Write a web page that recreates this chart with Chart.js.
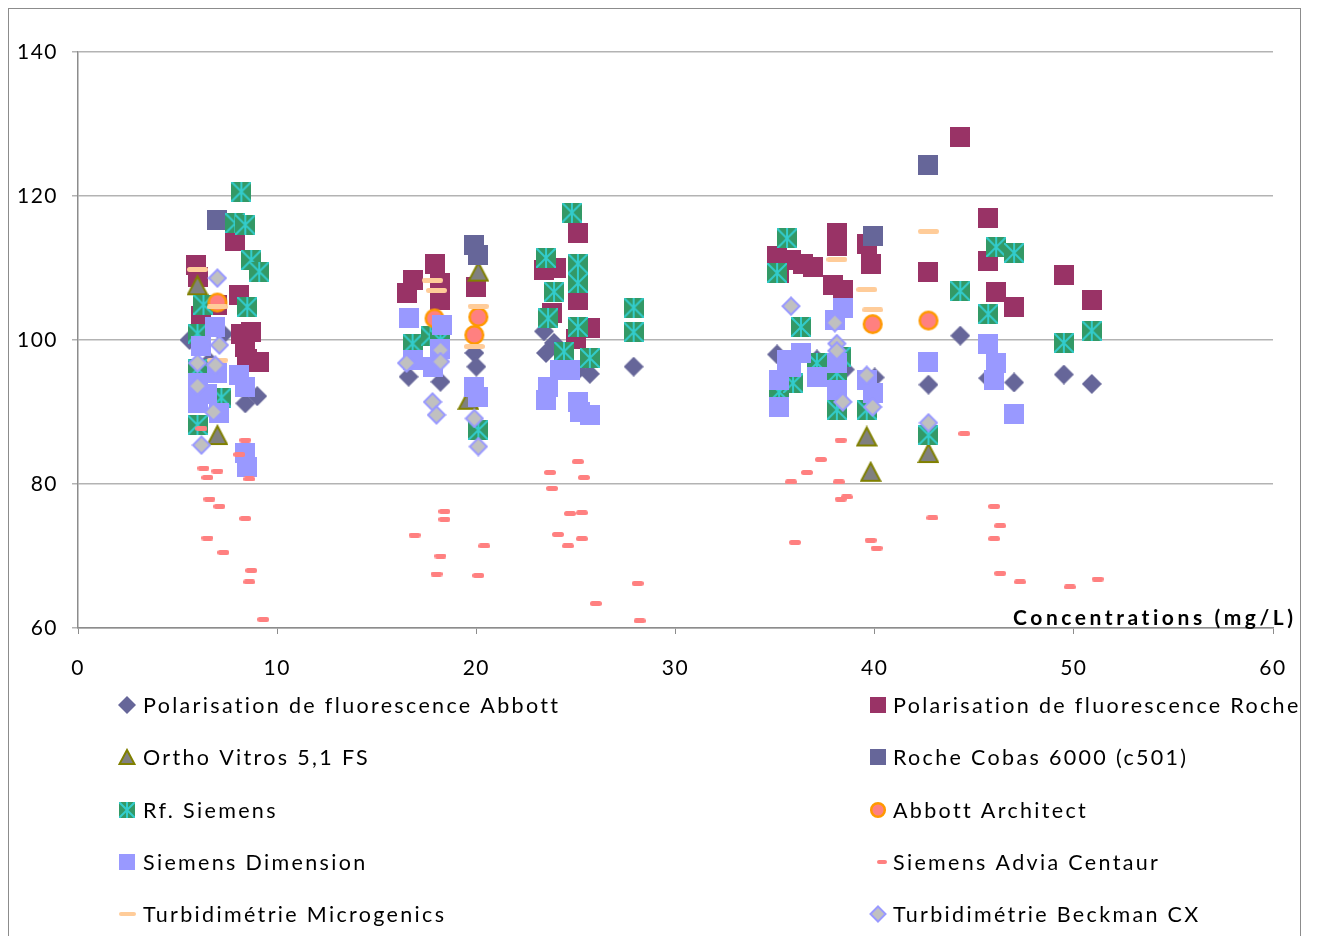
<!DOCTYPE html>
<html><head><meta charset="utf-8">
<script src="https://cdn.jsdelivr.net/npm/chart.js@4/dist/chart.umd.min.js"></script>
<style>html,body{margin:0;padding:0;background:#fff;}canvas{display:block}</style>
</head><body>
<canvas id="c" width="1322" height="936"></canvas>
<script>
// ---- data (x: concentration mg/L, y: value) ----
const xTicks = [0, 10, 20, 30, 40, 50, 60];
const yTicks = [60, 80, 100, 120, 140];
const xTitle = 'Concentrations (mg/L)';

const fpAbbott = [[5.6,100.0],[7.3,100.8],[6.6,97.0],[8.4,91.2],[9.0,92.2],
  [16.6,94.9],[18.2,94.2],[19.9,98.2],[20.0,96.3],
  [23.4,101.2],[23.9,99.6],[23.5,98.2],[25.1,95.8],[25.7,95.3],[27.9,96.3],
  [35.1,98.0],[37.1,97.3],[38.5,95.9],[40.0,94.8],
  [42.7,93.8],[44.3,100.6],[45.7,94.7],[47.0,94.1],[49.5,95.2],[50.9,93.9]];
const fpRoche = [[5.9,110.4],[6.0,108.8],[7.9,113.7],[8.1,106.3],[6.2,103.3],[7.0,104.9],[8.2,100.9],[8.7,101.1],[8.5,97.4],[9.1,97.0],[8.4,99.0],
  [16.5,106.5],[16.8,108.3],[17.9,110.6],[18.2,107.9],[18.2,105.6],[20.0,107.4],
  [23.4,109.7],[24.0,110.0],[25.1,114.8],[25.1,105.6],[23.8,103.7],[25.7,101.6],[25.0,100.2],[27.9,104.4],
  [35.1,111.6],[35.8,111.1],[36.4,110.6],[36.9,110.2],[35.2,109.3],[37.9,107.6],[38.4,106.9],[38.1,114.8],[38.1,113.0],[39.6,113.4],[39.8,110.6],
  [44.3,128.2],[42.7,109.5],[45.7,117.0],[45.7,111.0],[46.1,106.6],[47.0,104.6],[49.5,109.0],[50.9,105.6]];
const orthoVitros = [[6.0,107.6],[7.0,86.8],[20.1,109.5],[19.6,91.7],[39.6,86.6],[39.8,81.7],[42.7,84.3]];
const rocheCobas = [[7.0,116.7],[19.9,113.2],[20.1,111.8],[39.9,114.4],[42.7,124.3]];
const rfSiemens = [[8.2,120.6],[7.9,116.2],[8.4,116.0],[8.7,111.1],[9.1,109.5],[6.3,104.9],[8.5,104.6],[6.0,100.9],[6.0,96.0],[7.2,92.0],[6.0,88.2],
  [16.8,99.5],[17.7,100.5],[18.2,100.0],[20.1,87.5],
  [24.8,117.7],[23.5,111.4],[25.1,110.6],[25.1,107.9],[23.9,106.7],[23.6,103.0],[25.1,101.8],[24.4,98.4],[25.7,97.5],[27.9,104.5],[27.9,101.1],
  [35.6,114.1],[35.1,109.3],[36.3,101.8],[38.1,90.3],[39.6,90.3],[35.2,92.8],[35.9,94.0],[37.1,96.8],[38.1,95.4],[38.3,97.7],
  [44.3,106.8],[46.1,112.9],[47.0,112.1],[45.7,103.6],[49.5,99.6],[50.9,101.3],[42.7,86.8]];
const abbottArchitect = [[7.0,105.2],[17.9,103.0],[20.1,103.2],[19.9,100.7],[39.9,102.2],[42.7,102.7]];
const siemensDimension = [[6.9,101.8],[6.2,99.1],[7.0,95.4],[8.1,95.1],[8.4,93.5],[6.0,94.0],[6.0,91.2],[7.1,89.8],[6.5,92.5],[8.4,84.3],[8.5,82.4],
  [16.6,103.0],[18.3,102.1],[18.2,98.8],[16.8,97.2],[17.8,96.3],[19.9,93.5],[20.1,92.1],
  [24.2,95.8],[24.7,95.8],[23.6,93.5],[23.5,91.7],[25.1,91.4],[25.2,90.0],[25.7,89.6],
  [38.4,104.4],[38.0,102.8],[36.3,98.2],[35.6,97.2],[35.2,94.4],[37.1,94.9],[38.1,96.8],[38.1,93.1],[39.6,94.4],[39.9,92.6],[35.2,90.7],[35.8,96.3],
  [42.7,97.0],[45.7,99.5],[46.1,96.8],[46.0,94.4],[47.0,89.7]];
const adviaCentaur = [[6.2,87.7],[8.4,86.1],[8.1,84.1],[6.3,82.2],[7.0,81.8],[6.5,80.9],[8.6,80.7],[6.6,77.9],[7.1,76.9],[8.4,75.2],[6.5,72.5],[7.3,70.5],[8.7,68.0],[8.6,66.4],[9.3,61.2],
  [18.4,76.2],[18.4,75.1],[16.9,72.9],[20.4,71.4],[18.2,70.0],[18.0,67.5],[20.1,67.3],
  [25.1,83.1],[23.7,81.6],[25.4,80.9],[23.8,79.4],[24.7,75.9],[25.3,76.0],[24.1,73.0],[25.3,72.4],[24.6,71.4],[28.1,66.2],[26.0,63.4],[28.2,61.0],
  [38.3,86.1],[37.3,83.4],[36.6,81.6],[35.8,80.3],[38.2,80.3],[38.6,78.2],[38.3,77.9],[36.0,71.9],[39.8,72.2],[40.1,71.1],
  [44.5,87.0],[42.9,75.3],[46.0,76.9],[46.3,74.2],[46.0,72.4],[46.3,67.6],[47.3,66.4],[49.8,65.7],[51.2,66.8]];
const turbMicrogenics = [[6.0,109.8],[7.0,104.6],[7.0,97.2],[17.8,108.3],[18.0,106.9],[20.1,104.7],[19.9,99.1],[38.1,111.2],[39.6,107.0],[39.9,104.2],[42.7,115.1]];
const turbBeckman = [[7.0,108.6],[7.1,99.3],[6.0,96.8],[6.9,96.5],[6.0,93.6],[6.8,90.0],[6.2,85.4],
  [16.5,96.8],[18.2,98.6],[18.2,97.0],[17.8,91.4],[18.0,89.6],[19.9,89.1],[20.1,85.2],
  [35.8,104.7],[38.0,102.4],[38.1,99.5],[38.1,98.5],[39.6,95.1],[38.4,91.4],[39.9,90.7],[42.7,88.5]];

const seriesNames = ['Polarisation de fluorescence Abbott','Polarisation de fluorescence Roche','Ortho Vitros 5,1 FS','Roche Cobas 6000 (c501)','Rf. Siemens','Abbott Architect','Siemens Dimension','Siemens Advia Centaur','Turbidimétrie Microgenics','Turbidimétrie Beckman CX'];
const seriesData = [fpAbbott, fpRoche, orthoVitros, rocheCobas, rfSiemens, abbottArchitect, siemensDimension, adviaCentaur, turbMicrogenics, turbBeckman];

// ---- marker styles ----
const markerDefs = [
  {t:'diamond', fill:'#666699'},
  {t:'square', fill:'#993366'},
  {t:'triangle', fill:'#808080', stroke:'#808000'},
  {t:'square', fill:'#666699'},
  {t:'rf', fill:'#339966', stroke:'#33cccc'},
  {t:'circle', fill:'#ff8080', stroke:'#ff9900'},
  {t:'square', fill:'#9999ff'},
  {t:'dashS', fill:'#ff8080'},
  {t:'dashL', fill:'#ffcc99'},
  {t:'diamondB', fill:'#c0c0c0', stroke:'#9999ff'}
];

function makeMarker(def, s) {
  const c = document.createElement('canvas');
  let w = s, h = s;
  if (def.t === 'dashS') { w = Math.round(s*0.62); h = Math.round(s*0.27); }
  if (def.t === 'dashL') { w = Math.round(s*1.05); h = Math.round(s*0.25); }
  if (def.t === 'triangle' || def.t === 'circle') { w = s + 2; h = s + 2; }
  c.width = w; c.height = h;
  const g = c.getContext('2d');
  g.fillStyle = def.fill;
  switch (def.t) {
    case 'diamond':
      g.beginPath(); g.moveTo(w/2,0); g.lineTo(w,h/2); g.lineTo(w/2,h); g.lineTo(0,h/2); g.closePath(); g.fill(); break;
    case 'diamondB': {
      const r = w/2 - 1.5;
      g.beginPath(); g.moveTo(w/2,w/2-r); g.lineTo(w/2+r,h/2); g.lineTo(w/2,h/2+r); g.lineTo(w/2-r,h/2); g.closePath();
      g.fill(); g.strokeStyle = def.stroke; g.lineWidth = 2; g.stroke(); break; }
    case 'square':
      g.fillRect(0,0,w,h); break;
    case 'triangle':
      g.beginPath(); g.moveTo(w/2,2); g.lineTo(w-1.5,h-2); g.lineTo(1.5,h-2); g.closePath();
      g.fill(); g.strokeStyle = def.stroke; g.lineWidth = 2; g.lineJoin='miter'; g.stroke(); break;
    case 'rf':
      g.fillRect(0,0,w,h); g.strokeStyle = def.stroke; g.lineWidth = 2;
      g.beginPath(); g.moveTo(0,0); g.lineTo(w,h); g.moveTo(w,0); g.lineTo(0,h); g.moveTo(w/2,0); g.lineTo(w/2,h); g.stroke(); break;
    case 'circle':
      g.beginPath(); g.arc(w/2,h/2,s/2-1.2,0,Math.PI*2); g.fill(); g.strokeStyle = def.stroke; g.lineWidth = 2.5; g.stroke(); break;
    case 'dashS': case 'dashL': {
      const r = h/2; g.beginPath();
      g.moveTo(r,0); g.lineTo(w-r,0); g.arc(w-r,r,r,-Math.PI/2,Math.PI/2); g.lineTo(r,h); g.arc(r,r,r,Math.PI/2,Math.PI*1.5); g.closePath(); g.fill(); break; }
  }
  return c;
}

const plotMarkers = markerDefs.map(d => makeMarker(d, 20));
const legendMarkers = markerDefs.map(d => makeMarker(d, d.t==='diamond'||d.t==='diamondB' ? 18 : 16));

const datasets = seriesData.map((arr, i) => ({
  label: seriesNames[i],
  data: arr.map(([x, y]) => ({x, y})),
  pointStyle: plotMarkers[i],
  pointRadius: 10,
  showLine: false,
  order: 20 - i
}));

const FONT = 'Lato, "Open Sans", sans-serif';

const decorPlugin = {
  id: 'decor',
  beforeDraw(chart) {
    chart.ctx.letterSpacing = '1.5px';
  },
  afterDraw(chart) {
    const ctx = chart.ctx;
    ctx.save();
    ctx.strokeStyle = '#8c8c8c'; ctx.lineWidth = 1;
    ctx.strokeRect(8.5, 8.5, 1292, 1000);
    ctx.fillStyle = '#000';
    ctx.font = 'bold 21px ' + FONT;
    ctx.letterSpacing = '0px';
    let tw = ctx.measureText(xTitle).width;
    let sp = (284 - tw) / xTitle.length;
    ctx.letterSpacing = sp.toFixed(2) + 'px';
    ctx.textAlign = 'left'; ctx.textBaseline = 'middle';
    ctx.fillText(xTitle, 1013, 618);
    ctx.font = '21.5px ' + FONT;
    ctx.letterSpacing = '0px';
    const ref = seriesNames[0];
    const rw = ctx.measureText(ref).width;
    const lsp = (417 - rw) / ref.length;
    ctx.letterSpacing = lsp.toFixed(2) + 'px';
    const rows = [705, 757, 810, 862, 914];
    seriesNames.forEach((name, i) => {
      const col = i % 2, row = Math.floor(i / 2);
      const mx = col === 0 ? 127 : 878;
      const tx = col === 0 ? 143 : 893;
      const y = rows[row];
      const m = legendMarkers[i];
      let ox = (markerDefs[i].t === 'dashS') ? 4 : 0;
      ctx.drawImage(m, Math.round(mx + ox - m.width/2), Math.round(y - m.height/2));
      ctx.fillStyle = '#000';
      ctx.fillText(name, tx, y + 1);
    });
    ctx.restore();
  }
};

new Chart(document.getElementById('c'), {
  type: 'scatter',
  data: { datasets },
  options: {
    responsive: false,
    animation: false,
    events: [],
    devicePixelRatio: 1,
    layout: { padding: { left: 0, top: 52, right: 49, bottom: 248 } },
    plugins: { legend: { display: false }, tooltip: { enabled: false } },
    scales: {
      x: {
        type: 'linear',
        min: xTicks[0], max: xTicks[xTicks.length - 1],
        afterBuildTicks(scale) { scale.ticks = xTicks.map(v => ({ value: v })); },
        afterFit(scale) { scale.height = 60; },
        grid: { drawOnChartArea: false, drawTicks: true, tickLength: 6, color: '#8c8c8c', lineWidth: 1 },
        border: { display: true, color: '#8c8c8c', width: 1.5 },
        ticks: { color: '#000', font: { family: FONT, size: 21 }, padding: 22, maxRotation: 0 }
      },
      y: {
        type: 'linear',
        min: yTicks[0], max: yTicks[yTicks.length - 1],
        afterBuildTicks(scale) { scale.ticks = yTicks.map(v => ({ value: v })); },
        afterFit(scale) { scale.width = 78; },
        grid: { drawOnChartArea: true, drawTicks: true, tickLength: 6, color: '#b3b3b3', lineWidth: 1.5 },
        border: { display: true, color: '#8c8c8c', width: 1.5 },
        ticks: { color: '#000', font: { family: FONT, size: 21 }, padding: 14 }
      }
    }
  },
  plugins: [decorPlugin]
});
</script>
</body></html>
